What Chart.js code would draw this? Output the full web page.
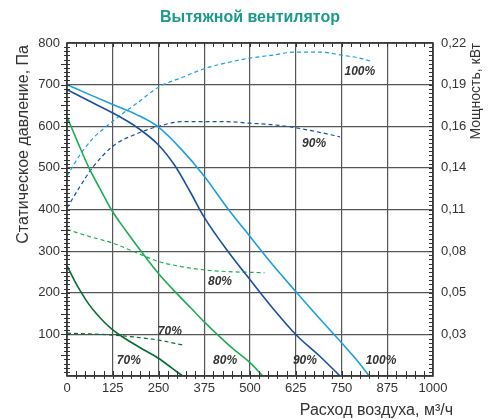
<!DOCTYPE html>
<html>
<head>
<meta charset="utf-8">
<script src="https://cdn.jsdelivr.net/npm/chart.js@4.4.1/dist/chart.umd.min.js"></script>
<style>
html,body{margin:0;padding:0;background:#fff;}
#wrap{width:492px;height:419px;}
</style>
</head>
<body>
<div id="wrap"><canvas id="c" width="492" height="419"></canvas></div>
<script>
// ---- data ----
const TITLE = 'Вытяжной вентилятор';
const X_TITLE = 'Расход воздуха, м³/ч';
const Y_TITLE = 'Статическое давление, Па';
const Y2_TITLE = 'Мощность, кВт';

const FLOW_TICKS = [0, 125, 250, 375, 500, 625, 750, 875, 1000];
const PRESSURE_TICKS = [100, 200, 300, 400, 500, 600, 700, 800];
const POWER_TICKS = [0.0275, 0.055, 0.0825, 0.11, 0.1375, 0.165, 0.1925, 0.22];
const POWER_TICK_LABELS = ['0,03', '0,05', '0,08', '0,11', '0,14', '0,16', '0,19', '0,22'];

// static pressure curves [flow, Pa]
const p100 = [[0,700],[62,676],[125,652],[190,628],[250,598],[312,545],[375,480],[437,405],[500,335],[562,267],[625,203],[687,141],[750,80],[790,40],[826,0]];
const p90  = [[0,688],[62,660],[125,632],[190,598],[250,555],[295,505],[335,445],[375,381],[440,299],[504,227],[565,160],[627,98],[690,48],[746,0]];
const p80  = [[0,623],[30,560],[60,500],[90,450],[121,400],[160,350],[203,299],[251,245],[299,199],[340,162],[375,130],[408,102],[450,68],[500,32],[535,0]];
const p70  = [[0,265],[20,230],[40,199],[60,172],[80,150],[100,131],[126,110],[153,93],[200,68],[251,42],[285,20],[316,0]];

// power curves [flow, kW]
const w100 = [[0,0.132],[35,0.146],[71,0.157],[108,0.165],[150,0.173],[190,0.180],[251,0.191],[312,0.197],[375,0.203],[437,0.207],[500,0.210],[562,0.212],[625,0.214],[690,0.214],[750,0.212],[800,0.210],[830,0.208]];
const w90  = [[0,0.111],[35,0.125],[71,0.138],[126,0.152],[190,0.160],[251,0.165],[312,0.168],[375,0.168],[437,0.168],[500,0.167],[562,0.166],[625,0.164],[690,0.161],[746,0.158]];
const w80  = [[0,0.0968],[62,0.0921],[126,0.0877],[190,0.0814],[251,0.0756],[312,0.0723],[375,0.0701],[437,0.0690],[500,0.0685],[540,0.0682]];
const w70  = [[0,0.0283],[62,0.0278],[126,0.0270],[190,0.0256],[251,0.0237],[317,0.0204]];

// curve labels [text, flow, Pa]
const CURVE_LABELS = [
  ['100%', 800, 730], ['90%', 675, 558], ['80%', 418, 226], ['70%', 281, 106],
  ['70%', 169, 37], ['80%', 432, 37], ['90%', 650, 37], ['100%', 858, 37]
];

const C100 = '#1e9fdc', C90 = '#1b4f9e', C80 = '#1eac56', C70 = '#0c6a36';

function pts(a){ return a.map(p => ({x:p[0], y:p[1]})); }
function solid(data, color){
  return {data: pts(data), borderColor: color, borderWidth: 1.6, pointRadius: 0, fill:false,
          cubicInterpolationMode:'monotone', yAxisID:'y'};
}
function dashed(data, color){
  return {data: pts(data), borderColor: color, borderWidth: 1.2, borderDash:[4,3], pointRadius: 0, fill:false,
          cubicInterpolationMode:'monotone', yAxisID:'y2'};
}

const FONT = '"Liberation Sans", Arial, sans-serif';

const decor = {
  id:'decor',
  afterDraw(chart){
    const {ctx, chartArea:a, scales} = chart;
    const xs = scales.x, ys = scales.y;
    ctx.save();
    // frame
    ctx.strokeStyle = '#333'; ctx.lineWidth = 1.6;
    ctx.strokeRect(a.left, a.top, a.right - a.left, a.bottom - a.top);
    // minor ticks
    ctx.lineWidth = 1; ctx.strokeStyle = '#333';
    ctx.beginPath();
    for (let v = 25; v < 1000; v += 25){
      const px = Math.round(xs.getPixelForValue(v)) + 0.5;
      ctx.moveTo(px, a.bottom - 5); ctx.lineTo(px, a.bottom + 3);
      ctx.moveTo(px, a.top); ctx.lineTo(px, a.top + 4);
    }
    for (let v = 10; v < 800; v += 10){
      const py = Math.round(ys.getPixelForValue(v)) + 0.5;
      const long = (v % 50 === 0) ? 6 : 3;
      ctx.moveTo(a.left - long, py); ctx.lineTo(a.left + 3, py);
      ctx.moveTo(a.right - 4, py); ctx.lineTo(a.right, py);
    }
    ctx.stroke();
    // curve labels
    ctx.fillStyle = '#333';
    ctx.font = 'italic bold 12px ' + FONT;
    ctx.textAlign = 'center'; ctx.textBaseline = 'middle';
    CURVE_LABELS.forEach(l => ctx.fillText(l[0], xs.getPixelForValue(l[1]), ys.getPixelForValue(l[2])));
    // title
    ctx.fillStyle = '#1b9a8a';
    ctx.font = 'bold 16px ' + FONT;
    ctx.fillText(TITLE, 250, 18);
    // axis titles
    ctx.fillStyle = '#333';
    ctx.font = '16px ' + FONT;
    ctx.textAlign = 'right'; ctx.textBaseline = 'alphabetic';
    ctx.fillText(X_TITLE, 453, 415);
    ctx.save();
    ctx.translate(28, a.top + 2); ctx.rotate(-Math.PI/2);
    ctx.textAlign = 'right';
    ctx.fillText(Y_TITLE, 0, 0);
    ctx.restore();
    ctx.save();
    ctx.font = '14px ' + FONT;
    ctx.translate(480, a.top); ctx.rotate(-Math.PI/2);
    ctx.textAlign = 'right';
    ctx.fillText(Y2_TITLE, 0, 0);
    ctx.restore();
    ctx.restore();
  }
};

new Chart(document.getElementById('c'), {
  type:'line',
  data:{ datasets:[
    solid(p100, C100), solid(p90, C90), solid(p80, C80), solid(p70, C70),
    dashed(w100, C100), dashed(w90, C90), dashed(w80, C80), dashed(w70, C70)
  ]},
  options:{
    responsive:false, animation:false, devicePixelRatio:1,
    layout:{padding:{top:43, left:0, right:0, bottom:0}},
    plugins:{legend:{display:false}, tooltip:{enabled:false}},
    scales:{
      x:{type:'linear', min:0, max:1000,
         afterBuildTicks(s){ s.ticks = FLOW_TICKS.map(v => ({value:v})); },
         afterFit(s){ s.height = 43; },
         grid:{color:'#555', lineWidth:1.2, drawTicks:false},
         border:{display:false},
         ticks:{color:'#333', font:{family:FONT, size:13}, padding:5, maxRotation:0, autoSkip:false,
                callback:(v) => String(v)}},
      y:{type:'linear', min:0, max:800, position:'left',
         afterBuildTicks(s){ s.ticks = [0].concat(PRESSURE_TICKS).map(v => ({value:v})); },
         afterFit(s){ s.width = 67; },
         grid:{color:'#555', lineWidth:1.2, drawTicks:false},
         border:{display:false},
         ticks:{color:'#333', font:{family:FONT, size:13}, padding:7,
                callback:(v) => v === 0 ? '' : String(v)}},
      y2:{type:'linear', min:0, max:0.22, position:'right',
         afterBuildTicks(s){ s.ticks = POWER_TICKS.map(v => ({value:v})); },
         afterFit(s){ s.width = 59; },
         grid:{display:false, drawTicks:false},
         border:{display:false},
         ticks:{color:'#333', font:{family:FONT, size:13}, padding:8,
                callback:(v, i) => POWER_TICK_LABELS[i]}}
    }
  },
  plugins:[decor]
});
</script>
</body>
</html>
